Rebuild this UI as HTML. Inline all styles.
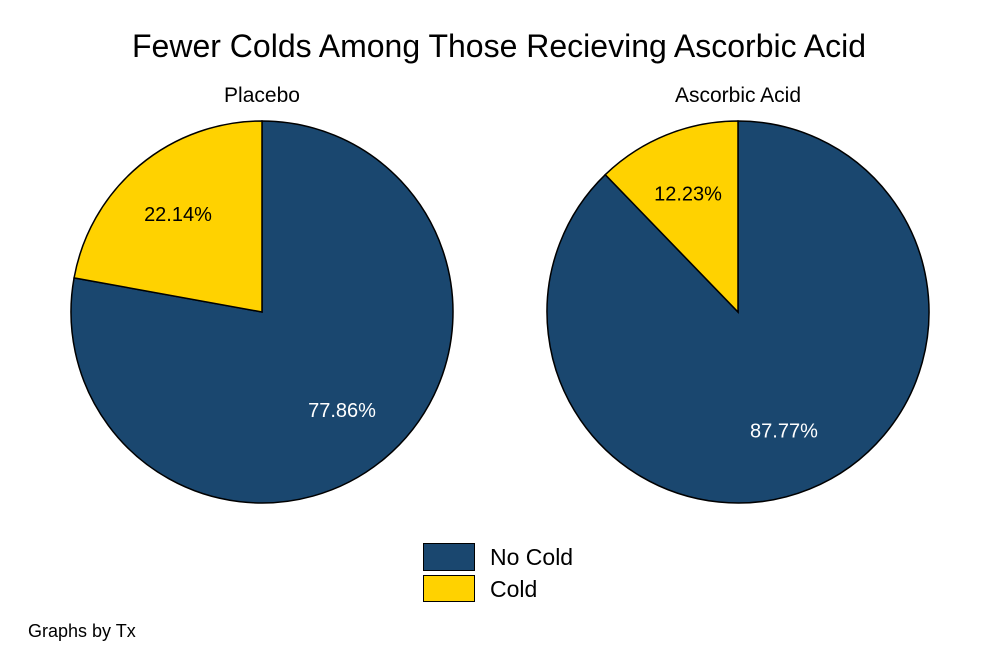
<!DOCTYPE html>
<html><head><meta charset="utf-8"><style>
body{margin:0;background:#fff;}
svg{display:block;font-family:"Liberation Sans",Arial,sans-serif;}
</style></head><body>
<svg id="c" width="1000" height="667" viewBox="0 0 1000 667">
<rect width="1000" height="667" fill="#fff"/>
<text x="499" y="57" font-size="32" text-anchor="middle">Fewer Colds Among Those Recieving Ascorbic Acid</text>
<g id="pies"></g>
<g>
<rect x="423.5" y="543.5" width="51" height="27" fill="#1a476f" stroke="#000"/>
<text x="490" y="565" font-size="23">No Cold</text>
<rect x="423.5" y="575.5" width="51" height="26" fill="#ffd200" stroke="#000"/>
<text x="490" y="597" font-size="23">Cold</text>
</g>
<text x="28" y="637" font-size="18">Graphs by Tx</text>
</svg>
<script>
const groups = ["Placebo", "Ascorbic Acid"];
const noCold = [77.86, 87.77];
const cold = [22.14, 12.23];
const centersX = [262, 738];
const cy = 312, R = 191;
const NS = "http://www.w3.org/2000/svg";
const g = document.getElementById("pies");
function pt(cx, a, r){return [cx + r*Math.sin(a), cy - r*Math.cos(a)];}
groups.forEach((name, i) => {
  const cx = centersX[i];
  const t = document.createElementNS(NS, "text");
  t.setAttribute("x", cx); t.setAttribute("y", 102);
  t.setAttribute("font-size", "21"); t.setAttribute("text-anchor", "middle");
  t.textContent = name;
  
  
  g.appendChild(t);
  const total = noCold[i] + cold[i];
  const vals = [noCold[i], cold[i]];
  const cols = ["#1a476f", "#ffd200"];
  const txtCols = ["#fff", "#000"];
  let start = 0;
  vals.forEach((v, j) => {
    const sweep = v / total * 2 * Math.PI;
    const end = start + sweep;
    const [x1, y1] = pt(cx, start, R), [x2, y2] = pt(cx, end, R);
    const p = document.createElementNS(NS, "path");
    p.setAttribute("d", `M${cx},${cy} L${x1},${y1} A${R},${R} 0 ${sweep > Math.PI ? 1 : 0} 1 ${x2},${y2} Z`);
    p.setAttribute("fill", cols[j]); p.setAttribute("stroke", "#000"); p.setAttribute("stroke-width", "1.5");
    
    
    g.appendChild(p);
    const [lx, ly] = pt(cx, start + sweep/2, R*0.67);
    const l = document.createElementNS(NS, "text");
    l.setAttribute("x", lx - 2); l.setAttribute("y", ly + 7);
    l.setAttribute("font-size", "20"); l.setAttribute("text-anchor", "middle");
    l.setAttribute("fill", txtCols[j]);
    l.textContent = v.toFixed(2) + "%";
    
    
    g.appendChild(l);
    start = end;
  });
});
</script>
</body></html>
